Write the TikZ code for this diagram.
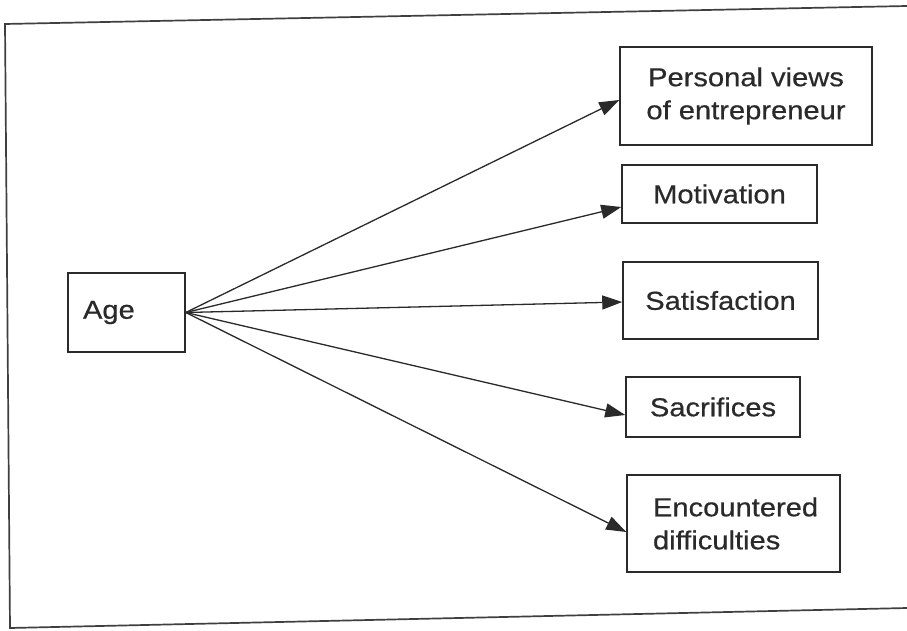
\documentclass[tikz,border=0pt]{standalone}
\usepackage{fontspec}
\setmainfont{Liberation Sans}[FakeStretch=1.12, FakeBold=0.5]
\usetikzlibrary{arrows.meta}
\definecolor{ink}{HTML}{2A2A2A}
\tikzset{
  box/.style={draw=ink, line width=1.5pt, inner ysep=0pt, font=\fontsize{26}{33}\selectfont, text=ink},
  link/.style={draw=ink, line width=1.3pt, -{Triangle[length=20pt,width=14pt]}},
  frame/.style={draw=ink!90, line width=1.7pt}
}
\begin{document}
\begin{tikzpicture}[x=1pt,y=-1pt]
\useasboundingbox (0,0) rectangle (907,631);
\fill[white] (0,0) rectangle (907,631);
% outer frame (open on the right)
\coordinate (ftr) at (907,6);
\coordinate (ftl) at (5,24);
\coordinate (fbl) at (10,628);
\coordinate (fbr) at (907,608);
\draw[frame] (ftr) -- (ftl) -- (fbl) -- (fbr);

% boxes
\node[box, minimum width=117pt, minimum height=79pt, inner xsep=15pt, text width=87pt, align=left] (age) at (126.5,312.5) {Age};
\node[box, minimum width=252pt, minimum height=98pt, align=center] (pv) at (746,96) {Personal views\\of entrepreneur};
\node[box, minimum width=195pt, minimum height=58pt] (mot) at (719.5,194) {Motivation};
\node[box, minimum width=195pt, minimum height=77pt] (sat) at (720.5,300.5) {Satisfaction};
\node[box, minimum width=174pt, minimum height=60pt] (sac) at (713,407) {Sacrifices};
\node[box, minimum width=213pt, minimum height=97pt, inner xsep=26pt, text width=161pt, align=left] (enc) at (733.5,523.5) {Encountered\\difficulties};

% connectors
\draw[link] (age.east) -- ([yshift=-4pt]pv.west);
\draw[link] (age.east) -- ([yshift=-13pt]mot.west);
\draw[link] (age.east) -- ([yshift=-1.5pt]sat.west);
\draw[link] (age.east) -- ([yshift=-8pt]sac.west);
\draw[link] (age.east) -- ([yshift=-8.5pt]enc.west);
\end{tikzpicture}
\end{document}
